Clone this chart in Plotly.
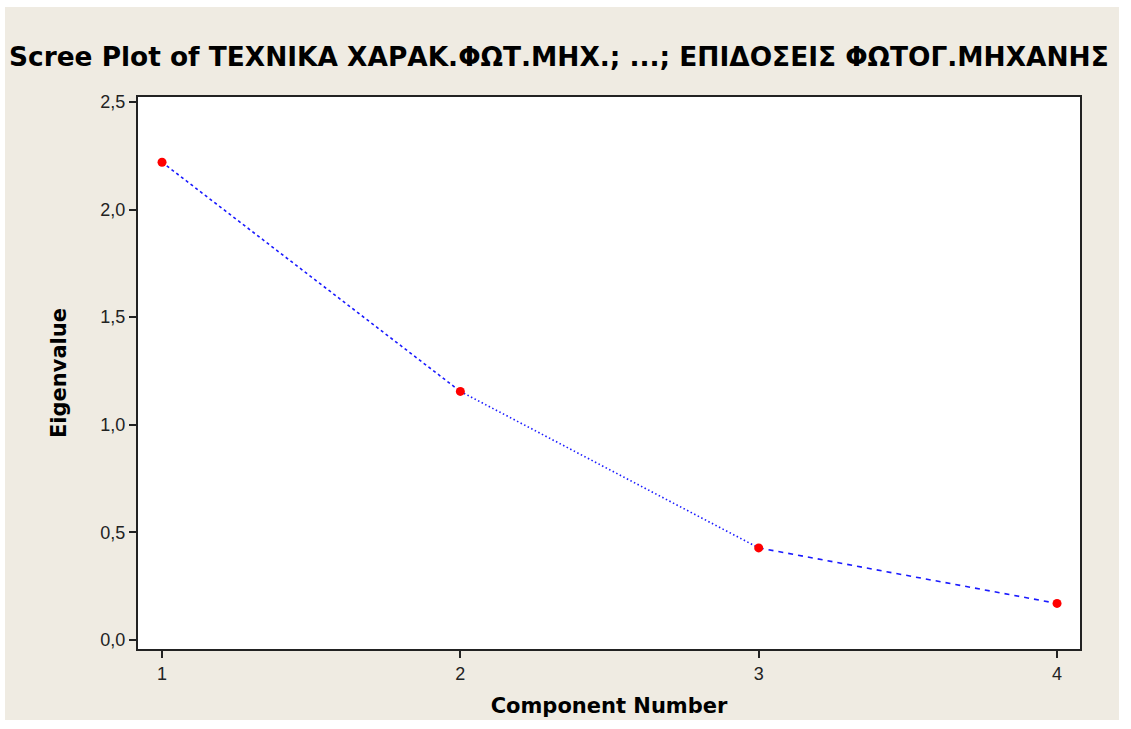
import plotly.graph_objects as go

components = [1, 2, 3, 4]
eigenvalues = [2.22, 1.155, 0.428, 0.17]
x_ticks = [1, 2, 3, 4]
y_ticks = [0.0, 0.5, 1.0, 1.5, 2.0, 2.5]
title_text = "Scree Plot of ΤΕΧΝΙΚΑ ΧΑΡΑΚ.ΦΩΤ.ΜΗΧ.; ...; ΕΠΙΔΟΣΕΙΣ ΦΩΤΟΓ.ΜΗΧΑΝΗΣ"
x_title = "Component Number"
y_title = "Eigenvalue"

seg_dash = ["3px,3px", "1.5px,2.5px", "5px,5px"]

W, H = 1131, 729
L, R, T, B = 138, 1080, 97, 649

fig = go.Figure()
for i, d in enumerate(seg_dash):
    fig.add_trace(go.Scatter(
        x=components[i:i + 2], y=eigenvalues[i:i + 2], mode="lines",
        line=dict(color="#1a1aff", width=1.6, dash=d),
        hoverinfo="skip", showlegend=False))
fig.add_trace(go.Scatter(
    x=components, y=eigenvalues, mode="markers",
    marker=dict(color="#ff0000", size=9, line=dict(width=0)),
    showlegend=False))

BG = "#efebe2"
wide = "DejaVu Sans, Verdana, sans-serif"


def px(p):
    return (p - L) / (R - L)


def py(p):
    return (B - p) / (B - T)


white_edges = [
    (0, W, 0, 7),      # top
    (0, 5, 0, H),      # left
    (1119, W, 0, H),   # right
    (0, W, 720, H),    # bottom
]
shapes = [dict(type="rect", xref="paper", yref="paper", layer="above",
               x0=px(a), x1=px(b), y0=py(d), y1=py(c),
               line=dict(width=0), fillcolor="white")
          for a, b, c, d in white_edges]

fig.update_layout(
    width=W, height=H,
    paper_bgcolor=BG, plot_bgcolor="white",
    margin=dict(l=L, r=W - R, t=T, b=H - B),
    separators=",.",
    title=dict(text="<b>" + title_text + "</b>", x=9 / W, xref="container", xanchor="left",
               y=(H - 57) / H, yref="container", yanchor="middle",
               font=dict(family=wide, size=26.4, color="black")),
    shapes=shapes,
)

fig.update_xaxes(
    range=[0.9195, 4.077], tickvals=x_ticks, ticktext=[str(v) for v in x_ticks],
    showgrid=False, zeroline=False, showline=True, mirror=True,
    linecolor="#222222", linewidth=2, ticks="outside", ticklen=7, tickwidth=2,
    tickcolor="#222222",
    tickfont=dict(family="Arial, Liberation Sans, sans-serif", size=18, color="#222222"),
    title=dict(text="<b>" + x_title + "</b>", standoff=16,
               font=dict(family=wide, size=21, color="black")),
)
fig.update_yaxes(
    range=[-0.0418, 2.523], tickvals=y_ticks, tickformat=".1f",
    showgrid=False, zeroline=False, showline=True, mirror=True,
    linecolor="#222222", linewidth=2, ticks="outside", ticklen=7, tickwidth=2,
    tickcolor="#222222",
    tickfont=dict(family="Arial, Liberation Sans, sans-serif", size=18, color="#222222"),
    title=dict(text="<b>" + y_title + "</b>", standoff=28,
               font=dict(family=wide, size=21, color="black")),
)

fig.write_html("out.html")
